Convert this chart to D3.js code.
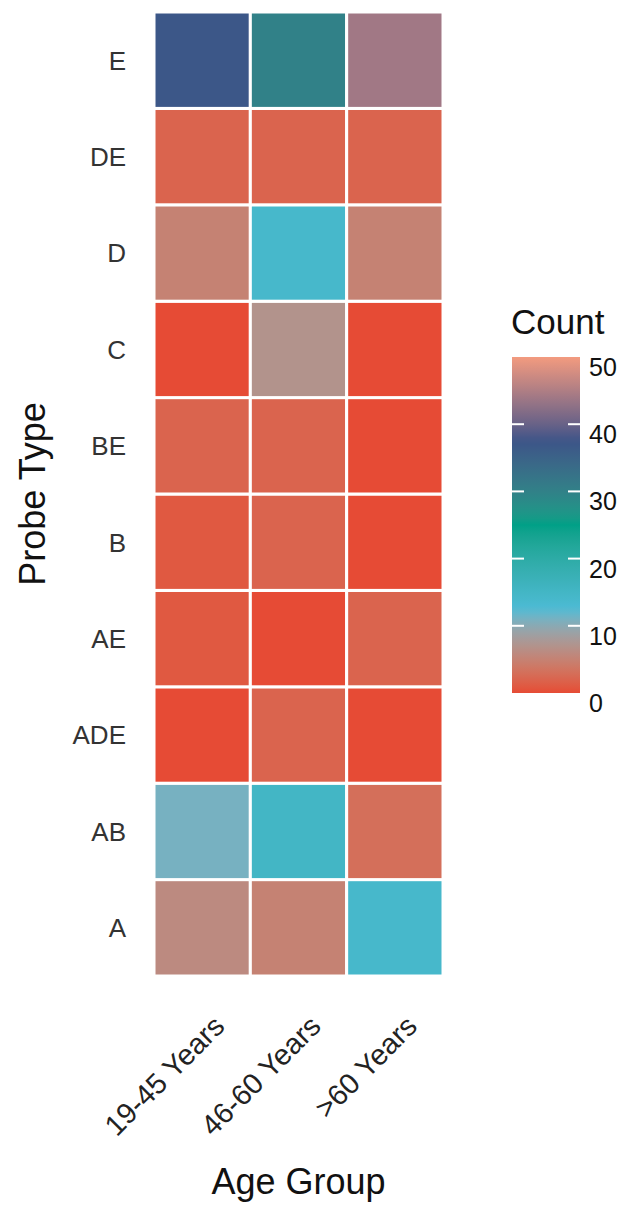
<!DOCTYPE html>
<html>
<head>
<meta charset="utf-8">
<script src="https://cdn.jsdelivr.net/npm/d3@7"></script>
<style>
  body { margin: 0; background: #fff; }
  text { font-family: "Liberation Sans", Arial, sans-serif; }
</style>
</head>
<body>
<div id="chart"></div>
<script>
// data
const ageGroups = ["19-45 Years", "46-60 Years", ">60 Years"]
const probeTypes = ["A", "AB", "ADE", "AE", "B", "BE", "C", "D", "DE", "E"]
const counts = {
  "A":   [6, 5, 14],
  "AB":  [11, 15, 3],
  "ADE": [0, 2, 0],
  "AE":  [1, 0, 2],
  "B":   [1, 2, 0],
  "BE":  [2, 2, 0],
  "C":   [0, 7, 0],
  "D":   [5, 14, 5],
  "DE":  [2, 2, 2],
  "E":   [37, 30, 44],
}
const legendTicks = [0, 10, 20, 30, 40, 50]
const palette = ["#E64B35", "#4DBBD5", "#00A087", "#3C5488", "#F39B7F"]

const cells = []
probeTypes.forEach(p => ageGroups.forEach((a, i) => cells.push({ probe: p, age: a, value: counts[p][i] })))

// dimensions
const width = 634
const height = 1207
const grid = { left: 154, right: 443, top: 12, bottom: 976 }

const svg = d3.select("#chart")
  .append("svg")
  .attr("width", width)
  .attr("height", height)

const xScale = d3.scaleBand()
  .domain(ageGroups)
  .range([grid.left, grid.right])

const yScale = d3.scaleBand()
  .domain(probeTypes.slice().reverse())
  .range([grid.top, grid.bottom])

const colorScale = d3.scaleLinear()
  .domain(d3.range(palette.length).map(i => i * 50 / (palette.length - 1)))
  .range(palette)
  .interpolate(d3.interpolateLab)
  .clamp(true)

// tiles
svg.append("g")
  .selectAll("rect")
  .data(cells)
  .join("rect")
  .attr("x", d => xScale(d.age))
  .attr("y", d => yScale(d.probe))
  .attr("width", xScale.bandwidth())
  .attr("height", yScale.bandwidth())
  .attr("fill", d => colorScale(d.value))
  .attr("stroke", "#fff")
  .attr("stroke-width", 3)

// y axis labels
svg.append("g")
  .selectAll("text")
  .data(probeTypes)
  .join("text")
  .attr("x", 126)
  .attr("y", d => yScale(d) + yScale.bandwidth() / 2)
  .attr("dy", "0.36em")
  .attr("text-anchor", "end")
  .attr("fill", "#333")
  .attr("font-size", 26)
  .attr("font-family", "'DejaVu Sans', sans-serif")
  .attr("font-weight", 200)
  .text(d => d)

// x axis labels
svg.append("g")
  .selectAll("text")
  .data(ageGroups)
  .join("text")
  .attr("transform", d => `translate(${xScale(d) + xScale.bandwidth() / 2 + 24}, 1028) rotate(-45)`)
  .attr("text-anchor", "end")
  .attr("fill", "#222")
  .attr("font-size", 29)
  .text(d => d)

// axis titles
svg.append("text")
  .attr("x", (grid.left + grid.right) / 2)
  .attr("y", 1194)
  .attr("text-anchor", "middle")
  .attr("font-size", 36)
  .attr("fill", "#111")
  .text("Age Group")

svg.append("text")
  .attr("transform", `translate(45, ${(grid.top + grid.bottom) / 2}) rotate(-90)`)
  .attr("text-anchor", "middle")
  .attr("font-size", 36)
  .attr("fill", "#111")
  .text("Probe Type")

// legend
const legend = { x: 512, w: 68, top: 357, bottom: 693 }
const legendScale = d3.scaleLinear()
  .domain([0, 50])
  .range([legend.bottom, legend.top])

const defs = svg.append("defs")
const grad = defs.append("linearGradient")
  .attr("id", "count-grad")
  .attr("x1", 0).attr("y1", 1).attr("x2", 0).attr("y2", 0)
grad.selectAll("stop")
  .data(d3.range(0, 51, 1))
  .join("stop")
  .attr("offset", d => d / 50)
  .attr("stop-color", d => colorScale(d))

svg.append("rect")
  .attr("x", legend.x)
  .attr("y", legend.top)
  .attr("width", legend.w)
  .attr("height", legend.bottom - legend.top)
  .attr("fill", "url(#count-grad)")

const tickG = svg.append("g")
legendTicks.filter(t => t > 0 && t < 50).forEach(t => {
  tickG.append("line")
    .attr("x1", legend.x).attr("x2", legend.x + 12)
    .attr("y1", legendScale(t)).attr("y2", legendScale(t))
    .attr("stroke", "#fff").attr("stroke-width", 2)
  tickG.append("line")
    .attr("x1", legend.x + legend.w - 12).attr("x2", legend.x + legend.w)
    .attr("y1", legendScale(t)).attr("y2", legendScale(t))
    .attr("stroke", "#fff").attr("stroke-width", 2)
})

svg.append("g")
  .selectAll("text")
  .data(legendTicks)
  .join("text")
  .attr("x", 589)
  .attr("y", d => legendScale(d) + 10)
  .attr("dy", "0.36em")
  .attr("font-size", 25)
  .attr("fill", "#111")
  .text(d => d)

svg.append("text")
  .attr("x", 511)
  .attr("y", 334)
  .attr("font-size", 35)
  .attr("fill", "#111")
  .text("Count")
</script>
</body>
</html>
